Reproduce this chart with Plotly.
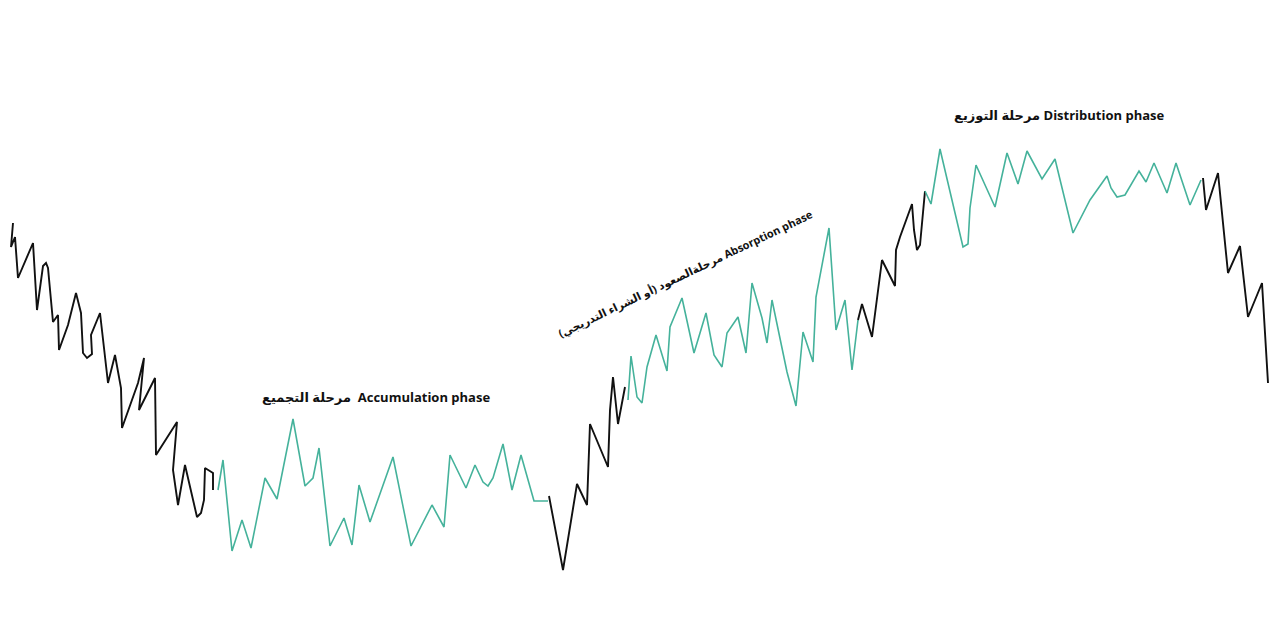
import plotly.graph_objects as go

# Price path segments (x, y in picture units; y grows downward)
black_a_x = [13, 11, 15, 18, 33, 37, 43, 46, 48, 53, 58, 59, 68, 76, 81, 83, 87, 92, 91, 100, 108, 115, 121, 122, 138, 144, 139, 155, 156, 177, 173, 178, 185, 192, 197, 201, 204, 205, 213, 213]
black_a_y = [223, 247, 237, 278, 243, 310, 266, 263, 268, 322, 315, 350, 325, 293, 313, 353, 358, 354, 335, 313, 383, 355, 388, 428, 383, 358, 410, 378, 455, 422, 470, 505, 465, 497, 517, 513, 500, 468, 473, 490]

teal_a_x = [218, 223, 232, 242, 251, 265, 277, 293, 305, 313, 319, 330, 344, 352, 359, 370, 393, 411, 432, 444, 450, 466, 475, 483, 488, 493, 503, 512, 521, 534, 548]
teal_a_y = [490, 460, 551, 520, 548, 478, 499, 419, 486, 478, 448, 546, 518, 545, 485, 522, 457, 546, 505, 527, 455, 488, 465, 482, 486, 478, 444, 490, 455, 501, 501]

black_b_x = [549, 558, 563, 577, 587, 590, 608, 610, 613, 618, 625]
black_b_y = [496, 543, 570, 484, 505, 424, 467, 410, 377, 424, 387]

teal_b_x = [628, 631, 637, 642, 647, 656, 667, 670, 682, 694, 706, 714, 722, 727, 738, 746, 752, 762, 767, 772, 787, 796, 803, 813, 816, 829, 836, 845, 852, 858]
teal_b_y = [400, 356, 397, 403, 367, 335, 371, 327, 298, 353, 313, 355, 367, 333, 317, 353, 283, 318, 343, 300, 372, 406, 332, 362, 297, 228, 330, 300, 370, 320]

black_c_x = [858, 862, 872, 882, 895, 896, 900, 912, 914, 917, 920, 925]
black_c_y = [320, 304, 337, 260, 286, 250, 237, 204, 230, 250, 245, 191]

teal_c_x = [925, 931, 940, 951, 963, 968, 970, 976, 995, 1007, 1018, 1027, 1042, 1055, 1073, 1090, 1107, 1111, 1117, 1125, 1139, 1146, 1154, 1167, 1176, 1190, 1201]
teal_c_y = [191, 204, 149, 195, 247, 244, 208, 165, 207, 153, 184, 151, 179, 159, 233, 200, 176, 188, 197, 195, 171, 182, 163, 193, 163, 205, 180]

black_d_x = [1203, 1206, 1218, 1228, 1240, 1248, 1262, 1268]
black_d_y = [178, 210, 173, 273, 246, 317, 283, 383]

labels = [
    "مرحلة التجميع  Accumulation phase",
    "مرحلةالصعود (أو الشراء التدريجي) Absorption phase",
    "مرحلة التوزيع Distribution phase",
]
label_x = [376, 685, 1059]
label_y = [397, 273, 115]
label_angle = [0, -25.5, 0]
label_size = [13, 11, 13]

BLACK = "#111111"
TEAL = "#45b29b"

fig = go.Figure()
segments = [
    (black_a_x, black_a_y, BLACK, 1.9),
    (teal_a_x, teal_a_y, TEAL, 1.6),
    (black_b_x, black_b_y, BLACK, 1.9),
    (teal_b_x, teal_b_y, TEAL, 1.6),
    (black_c_x, black_c_y, BLACK, 1.9),
    (teal_c_x, teal_c_y, TEAL, 1.6),
    (black_d_x, black_d_y, BLACK, 1.9),
]
for xs, ys, col, w in segments:
    fig.add_trace(go.Scatter(x=xs, y=ys, mode="lines",
                             line=dict(color=col, width=w),
                             hoverinfo="skip", showlegend=False))

for t, x, y, a, s in zip(labels, label_x, label_y, label_angle, label_size):
    fig.add_annotation(x=x, y=y, text=t, showarrow=False, textangle=a,
                       font=dict(family="Open Sans, DejaVu Sans, sans-serif",
                                 size=s, color="#111111", weight="bold"),
                       xanchor="center", yanchor="middle")

# page body has an 8px default margin; shift the ranges so picture units match page pixels
fig.update_layout(
    width=1280, height=636,
    margin=dict(l=0, r=0, t=0, b=0),
    paper_bgcolor="white", plot_bgcolor="white",
    xaxis=dict(range=[8, 1288], visible=False, showgrid=False, zeroline=False, fixedrange=True),
    yaxis=dict(range=[644, 8], visible=False, showgrid=False, zeroline=False, fixedrange=True),
)

fig.write_html("out.html")
